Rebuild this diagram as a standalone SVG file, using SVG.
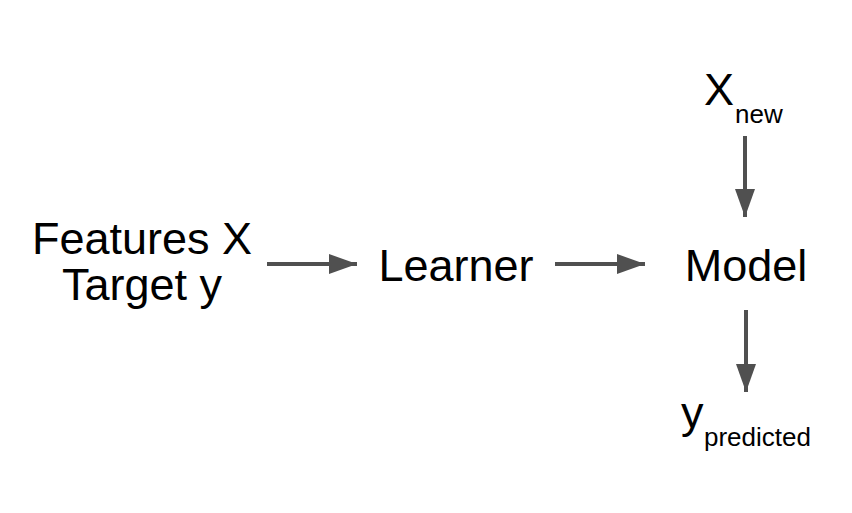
<svg xmlns="http://www.w3.org/2000/svg" width="852" height="513" viewBox="0 0 852 513">
<defs>
<style>
.t{font-family:"Liberation Sans",Arial,sans-serif;font-size:45px;fill:#000}
.s{font-size:26px}
.c{stroke:#505050;stroke-width:4;fill:none}
</style>
<marker id="ah" markerUnits="userSpaceOnUse" markerWidth="28" markerHeight="20" refX="28" refY="10" orient="auto" viewBox="0 0 28 20">
<path d="M0,0 L28,10 L0,20 Z" fill="#505050"/>
</marker>
</defs>
<rect width="852" height="513" fill="#fff"/>
<g id="connectors">
<line class="c" x1="267" y1="264" x2="357" y2="264" marker-end="url(#ah)"/>
<line class="c" x1="555" y1="264" x2="645" y2="264" marker-end="url(#ah)"/>
<line class="c" x1="745" y1="136" x2="745" y2="217" marker-end="url(#ah)"/>
<line class="c" x1="746" y1="310" x2="746" y2="392" marker-end="url(#ah)"/>
</g>
<g id="features">
<text class="t" x="142" y="254" text-anchor="middle">Features X</text>
<text class="t" x="142" y="300" text-anchor="middle">Target y</text>
</g>
<g id="learner">
<text class="t" x="456" y="281" text-anchor="middle">Learner</text>
</g>
<g id="model">
<text class="t" x="746" y="281" text-anchor="middle">Model</text>
</g>
<g id="xnew">
<text class="t" x="704" y="105">X<tspan class="s" x="735" y="123">new</tspan></text>
</g>
<g id="ypred">
<text class="t" x="681" y="428">y<tspan class="s" x="704" y="446">predicted</tspan></text>
</g>
</svg>
